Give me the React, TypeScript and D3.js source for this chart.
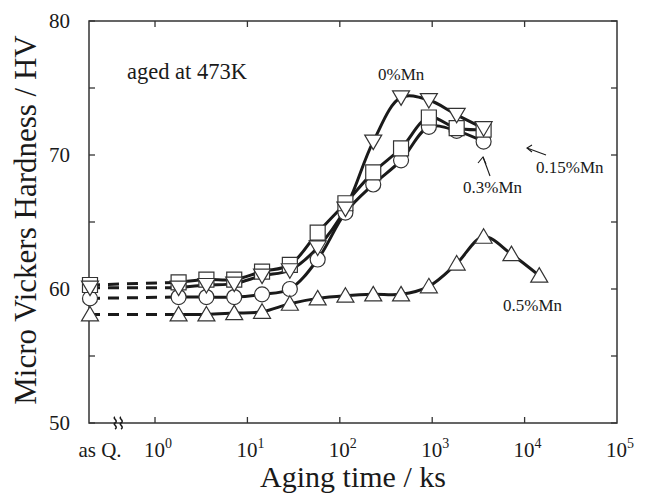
import * as d3 from "d3";

// aging times (ks)
const times = [1.8, 3.6, 7.2, 14.4, 28.8, 57.6, 115, 230, 460, 920, 1840, 3600];
const timesLong = [...times, 7200, 14400];

// hardness (HV)
const mn0 = [60.1, 60.3, 60.4, 61.0, 61.4, 63.1, 66.0, 71.0, 74.3, 74.1, 73.0, 72.0];
const mn015 = [60.5, 60.7, 60.7, 61.3, 61.8, 64.2, 66.4, 68.7, 70.5, 72.8, 72.0, 71.9];
const mn03 = [59.4, 59.4, 59.4, 59.6, 60.0, 62.2, 65.7, 67.8, 69.6, 72.1, 71.8, 71.0];
const mn05 = [58.1, 58.1, 58.2, 58.3, 58.9, 59.3, 59.5, 59.6, 59.6, 60.2, 61.9, 63.9, 62.6, 61.0];

// as-quenched values: 0, 0.15, 0.3, 0.5 %Mn
const asQ = [60.1, 60.3, 59.3, 58.1];

const yTicks = [50, 60, 70, 80];
const yMinor = [55, 65, 75];
const xDecades = [0, 1, 2, 3, 4, 5];

const W = 651;
const H = 494;
const FONT = "'Liberation Serif', 'Times New Roman', serif";
const INK = "#1a1a1a";

type Shape = "down" | "square" | "circle" | "up";

function markerPath(shape: Shape, cx: number, cy: number): string {
  const s = 8;
  if (shape === "square") {
    return `M${cx - 7.5},${cy - 7.5}h15v15h-15z`;
  }
  if (shape === "up") {
    return `M${cx},${cy - s}L${cx + s + 0.5},${cy + 6.5}L${cx - s - 0.5},${cy + 6.5}Z`;
  }
  if (shape === "down") {
    return `M${cx},${cy + s}L${cx + s + 0.5},${cy - 6.5}L${cx - s - 0.5},${cy - 6.5}Z`;
  }
  const r = 7.5;
  return `M${cx - r},${cy}a${r},${r} 0 1,0 ${2 * r},0a${r},${r} 0 1,0 ${-2 * r},0Z`;
}

export default function App() {
  const x = d3.scaleLog().domain([0.193, 1e5]).range([89, 617]);
  const y = d3.scaleLinear().domain([50, 80]).range([423, 21]);
  const [x0, x1] = x.range();
  const [yb, yt] = y.range();

  const series = [
    { t: times, v: mn0, q: asQ[0], shape: "down" as Shape },
    { t: times, v: mn015, q: asQ[1], shape: "square" as Shape },
    { t: times, v: mn03, q: asQ[2], shape: "circle" as Shape },
    { t: timesLong, v: mn05, q: asQ[3], shape: "up" as Shape },
  ];
  // marker draw order: circles, squares, up, down
  const drawOrder = [2, 1, 3, 0];

  const line = d3
    .line<[number, number]>()
    .x((d) => x(d[0]))
    .y((d) => y(d[1]))
    .curve(d3.curveCatmullRom.alpha(0.5));

  const tickLen = 6;

  return (
    <svg
      width={W}
      height={H}
      style={{ position: "absolute", left: 0, top: 0, background: "#fff" }}
      fontFamily={FONT}
    >
      {/* dashed as-quenched connections */}
      {series.map((s, i) => (
        <line
          key={`dash${i}`}
          x1={x0}
          x2={x(s.t[0])}
          y1={y(s.q)}
          y2={y(s.v[0])}
          stroke={INK}
          strokeWidth={3}
          strokeDasharray="11,8"
        />
      ))}

      {/* curves */}
      {series.map((s, i) => (
        <path
          key={`line${i}`}
          d={line(s.t.map((t, k) => [t, s.v[k]] as [number, number])) || ""}
          fill="none"
          stroke={INK}
          strokeWidth={3}
        />
      ))}

      {/* frame */}
      <rect x={x0} y={yt} width={x1 - x0} height={yb - yt} fill="none" stroke="#333" strokeWidth={1.5} />

      {/* y ticks, both sides */}
      {[...yTicks, ...yMinor].map((v) => (
        <g key={`yt${v}`} stroke="#333" strokeWidth={1.3}>
          <line x1={x0} x2={x0 + tickLen} y1={y(v)} y2={y(v)} />
          <line x1={x1} x2={x1 - tickLen} y1={y(v)} y2={y(v)} />
        </g>
      ))}
      {yTicks.map((v) => (
        <text key={`yl${v}`} x={70} y={y(v)} dy="0.35em" textAnchor="end" fontSize={21} fill={INK}>
          {v}
        </text>
      ))}

      {/* x ticks, both sides */}
      {xDecades.slice(0, -1).map((e) => (
        <g key={`xt${e}`} stroke="#333" strokeWidth={1.3}>
          <line x1={x(10 ** e)} x2={x(10 ** e)} y1={yb} y2={yb - tickLen} />
          <line x1={x(10 ** e)} x2={x(10 ** e)} y1={yt} y2={yt + tickLen} />
        </g>
      ))}
      {xDecades.map((e) => (
        <text key={`xl${e}`} x={x(10 ** e) - 11} y={457} fontSize={21} fill={INK}>
          10
          <tspan dy={-9} fontSize={14}>
            {e}
          </tspan>
        </text>
      ))}
      <text x={100} y={457} textAnchor="middle" fontSize={21} fill={INK}>
        as Q.
      </text>

      {/* axis break */}
      {[115, 121].map((bx) => (
        <path
          key={`br${bx}`}
          d={`M${bx},${yb + 6} c4,-2 -3,-5 0,-6 c4,-2 -3,-5 0,-6`}
          fill="none"
          stroke={INK}
          strokeWidth={1.5}
        />
      ))}

      {/* markers */}
      {drawOrder.map((i) => {
        const s = series[i];
        return (
          <g key={`mk${i}`} fill="#fff" stroke="#333" strokeWidth={1.2}>
            <path d={markerPath(s.shape, x0 + 1, y(s.q))} />
            {s.t.map((t, k) => (
              <path key={k} d={markerPath(s.shape, x(t), y(s.v[k]))} />
            ))}
          </g>
        );
      })}

      {/* annotations */}
      <text x={127} y={79} fontSize={22.5} fill={INK}>
        aged at 473K
      </text>
      <text x={378} y={80} fontSize={17} fill={INK}>
        0%Mn
      </text>
      <text x={463} y={193} fontSize={17} fill={INK}>
        0.3%Mn
      </text>
      <text x={536} y={173} fontSize={17} fill={INK}>
        0.15%Mn
      </text>
      <text x={503} y={311} fontSize={17} fill={INK}>
        0.5%Mn
      </text>

      {/* arrows */}
      <g stroke={INK} strokeWidth={1.1} fill="none">
        <path d="M490,176 L483,157" />
        <path d="M478,163 L483,157 L486,164" />
        <path d="M546,155 L527,148" />
        <path d="M532,145 L527,148 L532,152" />
      </g>

      {/* axis titles */}
      <text x={353} y={487} textAnchor="middle" fontSize={30} fill={INK}>
        Aging time / ks
      </text>
      <text
        transform="translate(36,220) rotate(-90)"
        textAnchor="middle"
        fontSize={31}
        fill={INK}
      >
        Micro Vickers Hardness / HV
      </text>
    </svg>
  );
}
